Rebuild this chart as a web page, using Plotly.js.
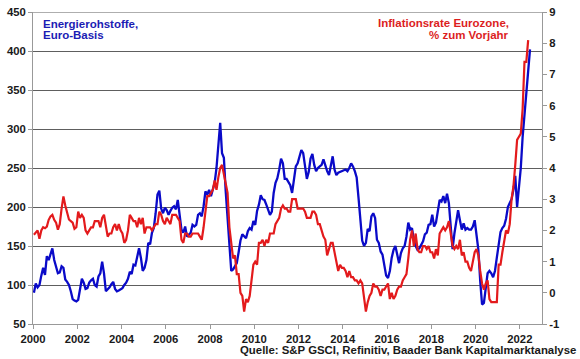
<!DOCTYPE html>
<html>
<head>
<meta charset="utf-8">
<script src="https://cdn.plot.ly/plotly-3.0.1.min.js"></script>
<style>html,body{margin:0;padding:0;background:#fff;}#chart{width:580px;height:359px;}</style>
</head>
<body>
<div id="chart"></div>
<script>
// Monthly data, first value = January 2000
var startYear = 2000;

// S&P GSCI Energy, Euro basis (left axis)
var energy2000_2005 = [
  90, 102, 97, 100, 112, 122, 113, 137, 132, 141, 147, 132,
  124, 115, 116, 124, 122, 107, 104, 100, 92, 82, 80, 79,
  81, 94, 108, 103, 95, 96, 103, 106, 108, 100, 98, 111,
  115, 130, 115, 92, 94, 97, 101, 104, 95, 92, 93, 94,
  96, 100, 103, 108, 117, 114, 126, 125, 138, 147, 135, 118,
  122, 132, 154, 152, 167, 173, 192, 216, 221, 198, 192, 199
];
var energy2006_2011 = [
  196, 190, 195, 199, 201, 197, 209, 192, 171, 167, 175, 162,
  165, 167, 177, 175, 177, 190, 192, 188, 201, 220, 216, 222,
  214, 224, 231, 250, 286, 308, 269, 263, 220, 190, 155, 118,
  120, 125, 128, 142, 157, 165, 163, 160, 169, 173, 171, 182,
  177, 195, 203, 215, 210, 209, 203, 197, 190, 194, 218, 231,
  237, 248, 262, 256, 236, 236, 232, 228, 218, 237, 252, 256
];
var energy2012_2017 = [
  266, 273, 269, 250, 236, 245, 262, 268, 254, 246, 250, 252,
  254, 261, 252, 246, 241, 252, 265, 248, 241, 244, 245, 246,
  247, 248, 246, 250, 256, 252, 246, 238, 212, 186, 157, 150,
  154, 172, 169, 188, 192, 186, 158, 154, 143, 139, 126, 112,
  109, 118, 135, 145, 150, 139, 128, 141, 147, 150, 162, 180,
  171, 173, 158, 150, 145, 147, 152, 156, 165, 167, 177, 178
];
var energy2018_2022 = [
  190, 175, 180, 197, 209, 207, 214, 205, 217, 205, 179, 146,
  166, 181, 196, 183, 171, 179, 171, 173, 171, 171, 175, 183,
  162, 145, 105, 75, 77, 98, 115, 118, 115, 110, 118, 135,
  150, 168, 173, 176, 185, 200, 205, 210, 222, 240, 200, 225,
  250, 290, 318, 345, 375, 402
];

// Euro area HICP inflation, % y/y (right axis)
var inflation2000_2005 = [
  1.86, 1.94, 2.0, 1.73, 2.0, 2.1, 2.07, 2.12, 2.34, 2.45, 2.5, 2.34,
  2.25, 2.02, 2.2, 2.7, 3.09, 2.8, 2.55, 2.35, 2.3, 2.25, 2.05, 2.1,
  2.6, 2.4, 2.5, 2.4, 2.0, 1.9, 2.0, 2.1, 2.1, 2.3, 2.3, 2.3,
  2.1, 2.4, 2.5, 2.1, 1.8, 1.9, 1.9, 2.1, 2.2, 2.0, 2.2, 2.0,
  1.9, 1.6, 1.7, 2.0, 2.5, 2.4, 2.3, 2.3, 2.1, 2.4, 2.2, 2.4,
  1.9, 2.1, 2.1, 2.1, 2.0, 2.1, 2.2, 2.2, 2.6, 2.5, 2.3, 2.2
];
var inflation2006_2011 = [
  2.4, 2.3, 2.2, 2.5, 2.5, 2.5, 2.4, 2.3, 1.7, 1.6, 1.9, 1.9,
  1.8, 1.8, 1.9, 1.9, 1.9, 1.9, 1.8, 1.7, 2.1, 2.6, 3.1, 3.1,
  3.2, 3.3, 3.6, 3.3, 3.7, 4.0, 4.1, 3.8, 3.6, 3.2, 2.1, 1.6,
  1.1, 1.2, 0.6, 0.6, 0.0, -0.1, -0.6, -0.2, -0.3, -0.1, 0.5, 0.9,
  1.0, 0.9, 1.6, 1.6, 1.7, 1.5, 1.7, 1.6, 1.9, 1.9, 1.9, 2.2,
  2.3, 2.4, 2.7, 2.8, 2.7, 2.7, 2.6, 2.6, 3.0, 3.0, 3.0, 2.7
];
var inflation2012_2017 = [
  2.7, 2.7, 2.7, 2.6, 2.4, 2.4, 2.4, 2.6, 2.6, 2.5, 2.2, 2.2,
  2.0, 1.8, 1.7, 1.2, 1.4, 1.6, 1.6, 1.3, 1.1, 0.7, 0.9, 0.8,
  0.8, 0.7, 0.5, 0.7, 0.5, 0.5, 0.4, 0.4, 0.3, 0.4, 0.3, -0.2,
  -0.6, -0.3, -0.1, 0.0, 0.3, 0.2, 0.2, 0.1, -0.1, 0.1, 0.1, 0.2,
  0.3, -0.2, 0.0, -0.2, -0.1, 0.1, 0.2, 0.2, 0.4, 0.5, 0.6, 1.1,
  1.7, 2.0, 1.5, 1.9, 1.4, 1.3, 1.3, 1.5, 1.5, 1.4, 1.5, 1.3
];
var inflation2018_2022 = [
  1.3, 1.1, 1.4, 1.2, 1.9, 2.0, 2.1, 2.0, 2.1, 2.3, 1.9, 1.5,
  1.4, 1.5, 1.4, 1.7, 1.2, 1.3, 1.0, 1.0, 0.8, 0.7, 1.0, 1.3,
  1.4, 1.2, 0.7, 0.3, 0.1, 0.3, 0.4, -0.2, -0.3, -0.3, -0.3, -0.3,
  0.9, 0.9, 1.3, 1.6, 2.0, 1.9, 2.2, 3.0, 3.4, 4.1, 4.9, 5.0,
  5.1, 5.9, 7.4, 7.4, 8.1
];

var xTickYears = ["2000","2002","2004","2006","2008","2010","2012","2014","2016","2018","2020","2022"];
var leftTicks = ["50","100","150","200","250","300","350","400","450"];
var rightTicks = ["-1","0","1","2","3","4","5","6","7","8","9"];

var energy = energy2000_2005.concat(energy2006_2011, energy2012_2017, energy2018_2022);
var inflation = inflation2000_2005.concat(inflation2006_2011, inflation2012_2017, inflation2018_2022);

function monthAxis(n) {
  var xs = [];
  for (var i = 0; i < n; i++) xs.push(startYear + (i + 0.5) / 12);
  return xs;
}

var BLUE = '#0a0ac8';
var RED = '#e31a1c';
var FONT = 'Liberation Sans, Arial, sans-serif';

var traces = [
  {x: monthAxis(energy.length), y: energy, type: 'scatter', mode: 'lines',
   line: {color: BLUE, width: 2.3}, yaxis: 'y', hoverinfo: 'skip'},
  {x: monthAxis(inflation.length), y: inflation, type: 'scatter', mode: 'lines',
   line: {color: RED, width: 2.2}, yaxis: 'y2', hoverinfo: 'skip'}
];

var L = 33, R = 542, T = 12, B = 324;
function px(x) { return (x - L) / (R - L); }
function py(y) { return (B - y) / (B - T); }

var tickFont = {family: FONT, size: 11.3, color: '#1a1a1a', weight: 'bold'};

var layout = {
  width: 580, height: 359,
  margin: {l: L, r: 580 - R, t: T, b: 359 - B, pad: 0},
  paper_bgcolor: '#ffffff', plot_bgcolor: '#ffffff',
  showlegend: false,
  xaxis: {
    range: [2000, 2023], tickmode: 'array',
    tickvals: xTickYears.map(Number), ticktext: xTickYears,
    ticks: 'outside', ticklen: 4, tickcolor: '#999999', tickwidth: 1,
    showline: true, linecolor: '#999999', linewidth: 1,
    showgrid: false, zeroline: false, tickfont: tickFont, fixedrange: true
  },
  yaxis: {
    range: [50, 450], tickmode: 'array',
    tickvals: leftTicks.map(Number), ticktext: leftTicks,
    ticks: 'outside', ticklen: 4, tickcolor: '#999999',
    showline: true, linecolor: '#999999', linewidth: 1,
    showgrid: true, gridcolor: '#5e5e5e', gridwidth: 1,
    zeroline: false, tickfont: tickFont, fixedrange: true
  },
  yaxis2: {
    range: [-1, 9], overlaying: 'y', side: 'right', tickmode: 'array',
    tickvals: rightTicks.map(Number), ticktext: rightTicks,
    ticks: 'outside', ticklen: 4, tickcolor: '#999999',
    showline: true, linecolor: '#999999', linewidth: 1,
    showgrid: false, zeroline: false, tickfont: tickFont, fixedrange: true
  },
  shapes: [
    {type: 'line', xref: 'paper', yref: 'y', x0: 0, x1: 1, y0: 450, y1: 450,
     line: {color: '#5e5e5e', width: 1}}
  ],
  annotations: [
    {text: 'Energierohstoffe,', xref: 'paper', yref: 'paper', x: px(41), y: py(24),
     xanchor: 'left', yanchor: 'middle', showarrow: false,
     font: {family: FONT, size: 11.5, color: '#1c1cb4', weight: 'bold'}},
    {text: 'Euro-Basis', xref: 'paper', yref: 'paper', x: px(41), y: py(35.5),
     xanchor: 'left', yanchor: 'middle', showarrow: false,
     font: {family: FONT, size: 11.5, color: '#1c1cb4', weight: 'bold'}},
    {text: 'Inflationsrate Eurozone,', xref: 'paper', yref: 'paper', x: px(511), y: py(23.5),
     xanchor: 'right', yanchor: 'middle', showarrow: false,
     font: {family: FONT, size: 11.5, color: '#dc1e1e', weight: 'bold'}},
    {text: '% zum Vorjahr', xref: 'paper', yref: 'paper', x: px(511), y: py(35),
     xanchor: 'right', yanchor: 'middle', showarrow: false,
     font: {family: FONT, size: 11.5, color: '#dc1e1e', weight: 'bold'}},
    {text: 'Quelle: S&amp;P GSCI, Refinitiv, Baader Bank Kapitalmarktanalyse', xref: 'paper', yref: 'paper',
     x: px(578), y: py(350), xanchor: 'right', yanchor: 'middle', showarrow: false,
     font: {family: FONT, size: 11.4, color: '#1a1a1a', weight: 'bold'}}
  ]
};

Plotly.newPlot('chart', traces, layout, {displayModeBar: false, staticPlot: true});
</script>
</body>
</html>
